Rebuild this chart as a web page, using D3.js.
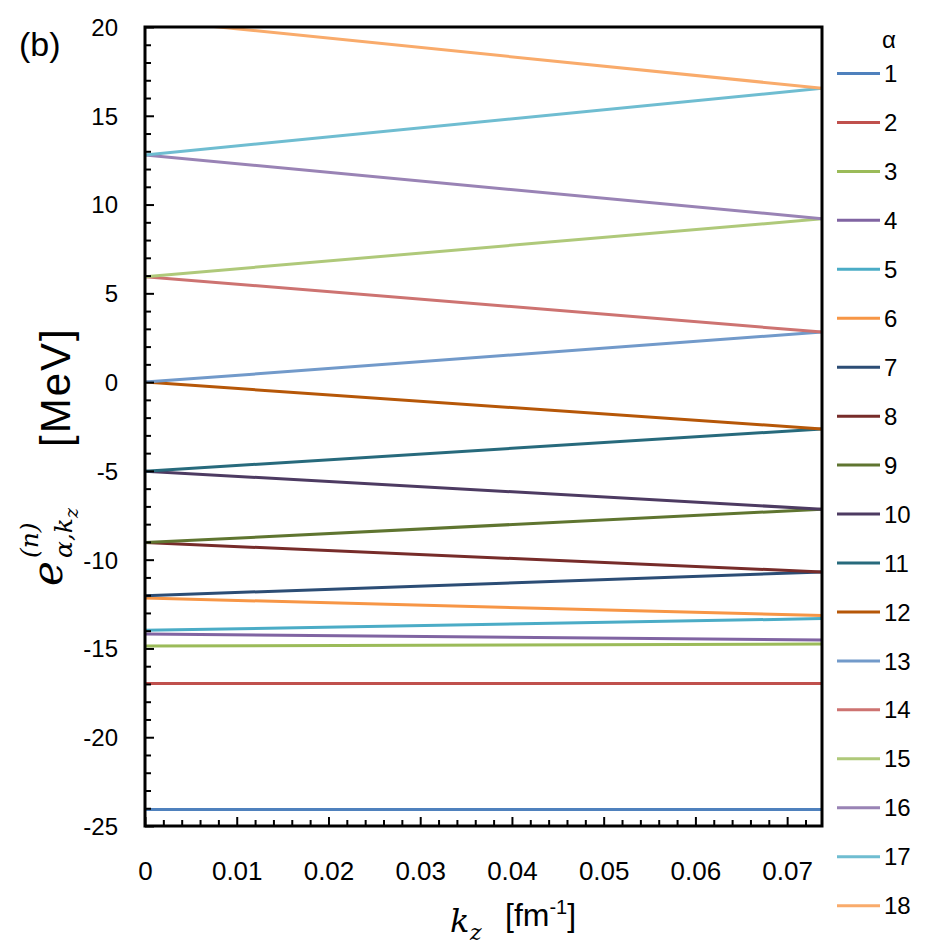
<!DOCTYPE html>
<html>
<head>
<meta charset="utf-8">
<script src="https://cdn.jsdelivr.net/npm/d3@7"></script>
<style>
    body { margin: 0; background: #fff; }
    svg { display: block; }
</style>
</head>
<body>
<div id="chart"></div>
<script>
// kz sample points [fm^-1]
var kzPoints = [0, 0.0738] ;

// series labels (alpha)
var alphaLabels = ["1","2","3","4","5","6","7","8","9","10","11","12","13","14","15","16","17","18"] ;

// energy at kz = 0 and at kz = max [MeV]
var eStart = [-24.07, -16.98, -14.86, -14.19, -13.98, -12.16, -12.03, -9.04, -9.04, -5.02, -5.02, 0.0, 0.0, 5.94, 5.94, 12.79, 12.79, 20.42] ;
var eEnd   = [-24.07, -16.97, -14.75, -14.52, -13.32, -13.15, -10.69, -10.69, -7.16, -7.16, -2.64, -2.64, 2.82, 2.82, 9.2, 9.2, 16.55, 16.55] ;

var seriesColors = ["#4F81BD", "#C0504D", "#9BBB59", "#8064A2", "#4BACC6", "#F79646",
		    "#2C4D75", "#772C2A", "#5F7530", "#4D3B62", "#276A7C", "#B65708",
		    "#729ACA", "#CD7371", "#AFC97A", "#9983B5", "#6FBDD1", "#F9AB6B"] ;

var xMajorTicks = [0, 0.01, 0.02, 0.03, 0.04, 0.05, 0.06, 0.07] ;
var yMajorTicks = [20, 15, 10, 5, 0, -5, -10, -15, -20, -25] ;

var width = 946, height = 946 ;
var plot = {left: 145, right: 822, top: 27, bottom: 826} ;

var svg = d3.select("#chart").append("svg")
    .attr("width", width)
    .attr("height", height)
    .attr("font-family", "Liberation Sans, Arial, sans-serif") ;

var x = d3.scaleLinear().domain([0, 0.0738]).range([plot.left, plot.right]) ;
var y = d3.scaleLinear().domain([-25, 20]).range([plot.bottom, plot.top]) ;

svg.append("clipPath")
    .attr("id", "plotClip")
    .append("rect")
    .attr("x", plot.left)
    .attr("y", plot.top)
    .attr("width", plot.right - plot.left)
    .attr("height", plot.bottom - plot.top) ;

// series lines
var series = alphaLabels.map(function(a, i) {
    return {label: a, color: seriesColors[i], pts: [[kzPoints[0], eStart[i]], [kzPoints[1], eEnd[i]]]} ;
}) ;

var line = d3.line()
    .x(function(d) { return x(d[0]); })
    .y(function(d) { return y(d[1]); }) ;

svg.append("g")
    .attr("clip-path", "url(#plotClip)")
    .selectAll("path")
    .data(series)
    .enter().append("path")
    .attr("d", function(d) { return line(d.pts); })
    .attr("fill", "none")
    .attr("stroke", function(d) { return d.color; })
    .attr("stroke-width", 3) ;

// minor ticks (inside)
var xMinor = d3.range(0, 0.0739, 0.002).filter(function(v) { return Math.abs(v/0.01 - Math.round(v/0.01)) > 1e-6; }) ;
var yMinor = d3.range(-25, 20.5, 1).filter(function(v) { return v % 5 != 0; }) ;

svg.append("g")
    .attr("transform", "translate(0," + plot.bottom + ")")
    .call(d3.axisBottom(x).tickValues(xMinor).tickSize(-6).tickFormat(""))
    .call(function(g) { g.select(".domain").remove(); })
    .selectAll("line").attr("stroke", "#000").attr("stroke-width", 2) ;

svg.append("g")
    .attr("transform", "translate(" + plot.left + ",0)")
    .call(d3.axisLeft(y).tickValues(yMinor).tickSize(-6).tickFormat(""))
    .call(function(g) { g.select(".domain").remove(); })
    .selectAll("line").attr("stroke", "#000").attr("stroke-width", 2) ;

// major ticks + labels
var xAxis = svg.append("g")
    .attr("transform", "translate(0," + plot.bottom + ")")
    .call(d3.axisBottom(x).tickValues(xMajorTicks).tickSize(-9).tickPadding(0)
	  .tickFormat(function(d) { return d == 0 ? "0" : d.toFixed(2); })) ;
xAxis.select(".domain").remove() ;
xAxis.selectAll("line").attr("stroke", "#000").attr("stroke-width", 2) ;
xAxis.selectAll("text")
    .attr("y", 54)
    .attr("dy", null)
    .attr("fill", "#000")
    .attr("font-size", "26px")
    .attr("font-family", "Liberation Sans, Arial, sans-serif") ;

var yAxis = svg.append("g")
    .attr("transform", "translate(" + plot.left + ",0)")
    .call(d3.axisLeft(y).tickValues(yMajorTicks).tickSize(-9)
	  .tickFormat(function(d) { return String(d); })) ;
yAxis.select(".domain").remove() ;
yAxis.selectAll("line").attr("stroke", "#000").attr("stroke-width", 2) ;
yAxis.selectAll("text")
    .attr("x", -27)
    .attr("dy", "0.35em")
    .attr("fill", "#000")
    .attr("font-size", "24px")
    .attr("font-family", "Liberation Sans, Arial, sans-serif") ;

// plot frame
svg.append("rect")
    .attr("x", plot.left)
    .attr("y", plot.top)
    .attr("width", plot.right - plot.left)
    .attr("height", plot.bottom - plot.top)
    .attr("fill", "none")
    .attr("stroke", "#000")
    .attr("stroke-width", 3) ;

// panel tag
svg.append("text")
    .attr("x", 19)
    .attr("y", 56)
    .attr("font-size", "34px")
    .attr("fill", "#000")
    .text("(b)") ;

// x axis title
var mathFont = "DejaVu Serif, Liberation Serif, serif" ;
svg.append("text")
    .attr("x", 450)
    .attr("y", 932)
    .attr("font-family", mathFont)
    .attr("font-style", "italic")
    .attr("font-size", "32px")
    .text("k") ;
svg.append("text")
    .attr("x", 470)
    .attr("y", 940)
    .attr("font-family", mathFont)
    .attr("font-style", "italic")
    .attr("font-size", "22px")
    .text("z") ;
var xt = svg.append("text")
    .attr("x", 505)
    .attr("y", 926)
    .attr("font-size", "32px") ;
xt.append("tspan").text("[fm") ;
xt.append("tspan").attr("font-size", "20px").attr("dy", -12).text("-1") ;
xt.append("tspan").attr("dy", 12).text("]") ;

// y axis title (rotated)
var yt = svg.append("g").attr("transform", "rotate(-90)") ;
yt.append("text")
    .attr("x", -586)
    .attr("y", 62)
    .attr("font-family", mathFont)
    .attr("font-style", "italic")
    .attr("font-size", "42px")
    .text("e") ;
yt.append("text")
    .attr("x", -558)
    .attr("y", 38)
    .attr("font-family", mathFont)
    .attr("font-style", "italic")
    .attr("font-size", "25px")
    .text("(n)") ;
var sub = yt.append("text")
    .attr("x", -558)
    .attr("y", 72)
    .attr("font-family", mathFont)
    .attr("font-style", "italic")
    .attr("font-size", "25px") ;
sub.append("tspan").text("α,k") ;
sub.append("tspan").attr("font-size", "19px").attr("dy", 6).text("z") ;
yt.append("text")
    .attr("x", -447)
    .attr("y", 70)
    .attr("font-size", "42px")
    .attr("letter-spacing", "2px")
    .text("[MeV]") ;

// legend
var legend = svg.append("g") ;
legend.append("text")
    .attr("x", 882)
    .attr("y", 48)
    .attr("font-size", "24px")
    .text("α") ;

var items = legend.selectAll("g.item")
    .data(series)
    .enter().append("g")
    .attr("class", "item")
    .attr("transform", function(d, i) { return "translate(0," + (73.5 + i*48.95) + ")"; }) ;
items.append("line")
    .attr("x1", 837).attr("x2", 880)
    .attr("stroke", function(d) { return d.color; })
    .attr("stroke-width", 3) ;
items.append("text")
    .attr("x", 884)
    .attr("dy", "0.36em")
    .attr("font-size", "24px")
    .text(function(d) { return d.label; }) ;
</script>
</body>
</html>
